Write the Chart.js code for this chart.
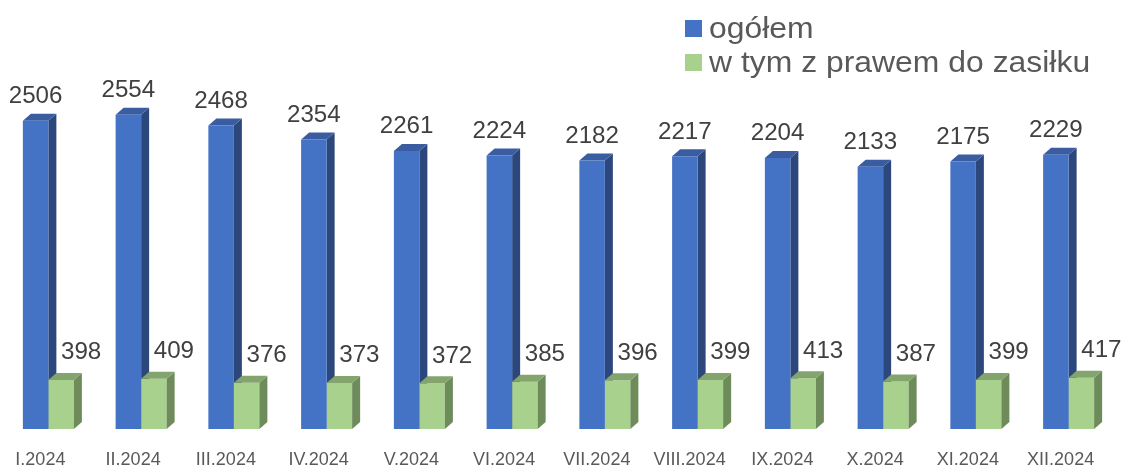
<!DOCTYPE html>
<html>
<head>
<meta charset="utf-8">
<script src="https://cdn.jsdelivr.net/npm/chart.js@4"></script>
<style>
  body { margin: 0; background: #fff; overflow: hidden; }
  #wrap { position: relative; width: 1137px; height: 466px; }
  .legend { position: absolute; left: 685px; font-family: "Liberation Sans", Arial, sans-serif;
            font-size: 29px; line-height: 1; color: #595959; white-space: nowrap; }
  .legend span.box { position: absolute; left: 0; top: 0; width: 17px; height: 17px; }
  .legend span.txt { position: absolute; left: 24px; display: inline-block; transform: scaleX(1.1); transform-origin: left center; }
</style>
</head>
<body>
<div id="wrap">
  <canvas id="chart" width="1137" height="466"></canvas>
  <div class="legend" style="top:20px"><span class="box" style="background:#4472C4"></span><span class="txt" style="top:-6px">ogółem</span></div>
  <div class="legend" style="top:54px"><span class="box" style="background:#A9D18E"></span><span class="txt" style="top:-6px">w tym z prawem do zasiłku</span></div>
</div>
<script>
const months = ["I.2024", "II.2024", "III.2024", "IV.2024", "V.2024", "VI.2024",
                "VII.2024", "VIII.2024", "IX.2024", "X.2024", "XI.2024", "XII.2024"];
const ogolem = [2506, 2554, 2468, 2354, 2261, 2224, 2182, 2217, 2204, 2133, 2175, 2229];
const zasilek = [398, 409, 376, 373, 372, 385, 396, 399, 413, 387, 399, 417];

const DX = 8, DY = 7;
const faces = [
    { side: "#2C477C", top: "#3A5DA2", labelDx: 0, labelDy: 24 },
    { side: "#6E8B5A", top: "#84A46E", labelDx: 20, labelDy: 27 }
];

function drawFaces(chart, idx){
    const ctx = chart.ctx;
    const meta = chart.getDatasetMeta(idx);
    const f = faces[idx];
    meta.data.forEach(bar => {
        const p = bar.getProps(['x', 'y', 'base', 'width'], true);
        const l = p.x - p.width / 2, r = p.x + p.width / 2;
        ctx.save();
        ctx.fillStyle = f.side;
        ctx.beginPath();
        ctx.moveTo(r, p.y);
        ctx.lineTo(r + DX, p.y - DY);
        ctx.lineTo(r + DX, p.base - DY);
        ctx.lineTo(r, p.base);
        ctx.closePath();
        ctx.fill();
        ctx.fillStyle = f.top;
        ctx.beginPath();
        ctx.moveTo(l, p.y);
        ctx.lineTo(l + DX, p.y - DY);
        ctx.lineTo(r + DX, p.y - DY);
        ctx.lineTo(r, p.y);
        ctx.closePath();
        ctx.fill();
        ctx.restore();
    });
}

function drawLabels(chart, idx){
    const ctx = chart.ctx;
    const meta = chart.getDatasetMeta(idx);
    const f = faces[idx];
    const values = chart.data.datasets[idx].data;
    ctx.save();
    ctx.font = '23px "Liberation Sans", Arial, sans-serif';
    ctx.fillStyle = "#404040";
    ctx.textAlign = "center";
    ctx.textBaseline = "middle";
    meta.data.forEach((bar, i) => {
        const p = bar.getProps(['x', 'y'], true);
        ctx.save();
        ctx.translate(p.x + f.labelDx, p.y - f.labelDy);
        ctx.scale(1.05, 1);
        ctx.fillText(String(values[i]), 0, 0);
        ctx.restore();
    });
    ctx.restore();
}

const bars3d = {
    id: 'bars3d',
    beforeDatasetsDraw(chart){ drawFaces(chart, 0); },
    afterDatasetsDraw(chart){
        drawFaces(chart, 1);
        drawLabels(chart, 0);
        drawLabels(chart, 1);
    }
};

new Chart(document.getElementById("chart"), {
    type: 'bar',
    data: {
        labels: months,
        datasets: [
            { label: "ogółem", data: ogolem, backgroundColor: "#4472C4", borderWidth: 0 },
            { label: "w tym z prawem do zasiłku", data: zasilek, backgroundColor: "#A9D18E", borderWidth: 0 }
        ]
    },
    options: {
        responsive: false,
        animation: false,
        events: [],
        layout: { padding: { left: 2, right: 22, top: 60, bottom: 0 } },
        datasets: { bar: { categoryPercentage: 0.55, barPercentage: 1.0 } },
        plugins: { legend: { display: false }, tooltip: { enabled: false } },
        scales: {
            x: {
                grid: { display: false, drawTicks: false },
                border: { display: false },
                ticks: {
                    color: "#595959",
                    font: { family: '"Liberation Sans", Arial, sans-serif', size: 18 },
                    padding: 20,
                    labelOffset: -8,
                    maxRotation: 0,
                    autoSkip: false
                },
                afterFit(scale){ scale.height = 37; }
            },
            y: { display: false, min: 0, max: 3000 }
        }
    },
    plugins: [bars3d]
});
</script>
</body>
</html>
